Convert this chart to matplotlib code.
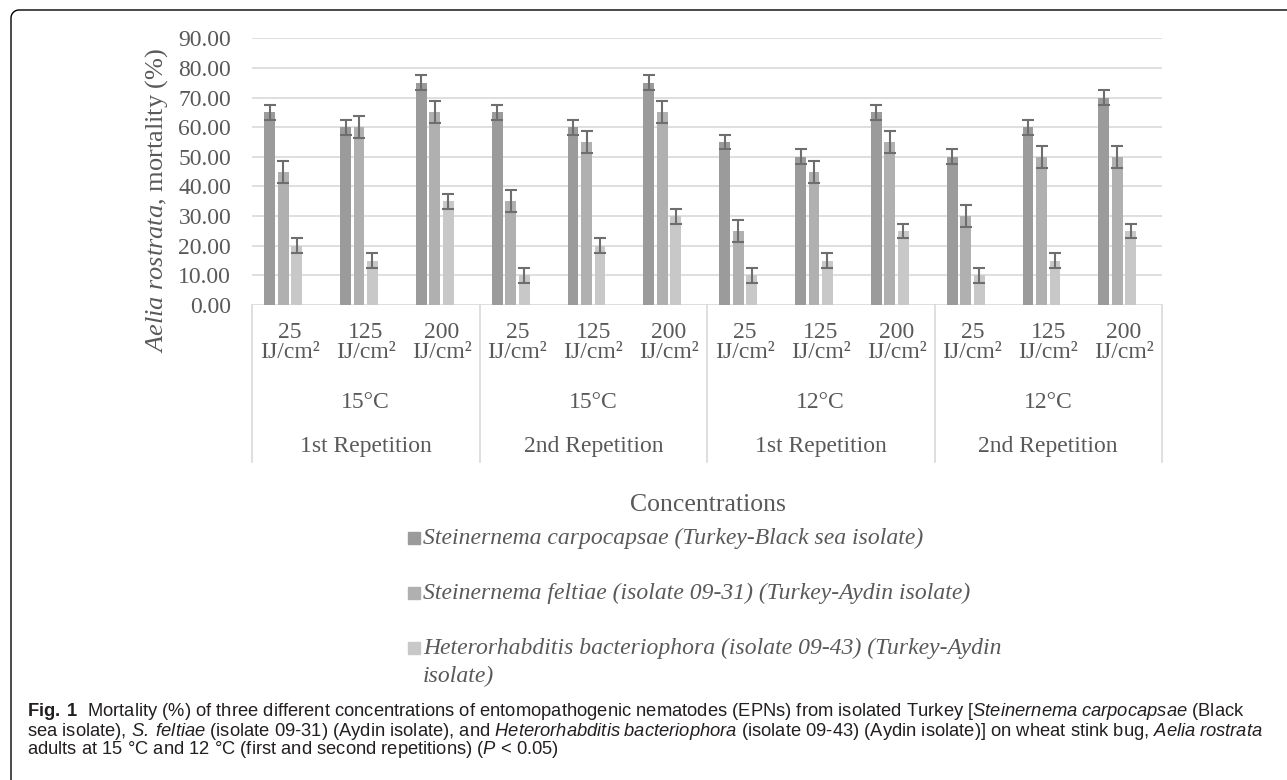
import matplotlib
matplotlib.use('Agg')
import matplotlib.pyplot as plt
import numpy as np
from matplotlib.transforms import blended_transform_factory
from matplotlib.lines import Line2D
from matplotlib.patches import Rectangle

plt.rcParams['font.family'] = ['Liberation Serif', 'DejaVu Serif']
plt.rcParams['mathtext.fontset'] = 'custom'
plt.rcParams['mathtext.rm'] = 'Liberation Serif'
plt.rcParams['mathtext.it'] = 'Liberation Serif:italic'
plt.rcParams['mathtext.sf'] = 'Liberation Sans:italic'
plt.rcParams['mathtext.bf'] = 'Liberation Sans:bold'

# ---------------- data ----------------
conc_top = ['25', '125', '200', '25', '125', '200', '25', '125', '200', '25', '125', '200']
conc_unit = ['IJ/cm²'] * 12
temp_labels = ['15°C', '15°C', '12°C', '12°C']
rep_labels = ['1st Repetition', '2nd Repetition', '1st Repetition', '2nd Repetition']

carpocapsae = [65, 60, 75, 65, 60, 75, 55, 50, 65, 50, 60, 70]
feltiae     = [45, 60, 65, 35, 55, 65, 25, 45, 55, 30, 50, 50]
bacterio    = [20, 15, 35, 10, 20, 30, 10, 15, 25, 10, 15, 25]
empty_ser   = [0, 0, 0, 0, 0, 0, 0, 0, 0, 0, 0, 0]

err_carpo   = [2.5, 2.5, 2.5, 2.5, 2.5, 2.5, 2.5, 2.5, 2.5, 2.5, 2.5, 2.5]
err_feltiae = [3.7, 3.7, 3.7, 3.7, 3.7, 3.7, 3.7, 3.7, 3.7, 3.7, 3.7, 3.7]
err_bact    = [2.5, 2.5, 2.5, 2.5, 2.5, 2.5, 2.5, 2.5, 2.5, 2.5, 2.5, 2.5]

legend_labels = [
    'Steinernema carpocapsae (Turkey-Black sea isolate)',
    'Steinernema feltiae (isolate 09-31) (Turkey-Aydin isolate)',
    'Heterorhabditis bacteriophora (isolate 09-43) (Turkey-Aydin',
]

# ---------------- style ----------------
W, H = 1287, 780
C1, C2, C3, C4 = '#9b9b9b', '#b0b0b0', '#c8c8c8', '#d9d9d9'
TXT = '#595959'
GRID = '#d9d9d9'
ERR = '#6e6e6e'
FS_TICK = 17

fig = plt.figure(figsize=(W / 100, H / 100), dpi=100)

# axes in pixel terms: x 252..1162, y(0)=305, y(90)=38
ax_l, ax_r, ax_b, ax_t = 252, 1162, 305, 38.3
ax = fig.add_axes([ax_l / W, 1 - ax_b / H, (ax_r - ax_l) / W, (ax_b - ax_t) / H])

def ay(py):
    # pixel row -> axes fraction
    return (ax_b - py) / (ax_b - ax_t)

x = np.arange(len(carpocapsae))
bw = 0.142
step = 0.178
err_kw = dict(ecolor=ERR, elinewidth=1.5, capsize=4, capthick=1.5)

ax.bar(x - 1.5 * step, carpocapsae, bw, color=C1, yerr=err_carpo, error_kw=err_kw, zorder=2)
ax.bar(x - 0.5 * step, feltiae, bw, color=C2, yerr=err_feltiae, error_kw=err_kw, zorder=2)
ax.bar(x + 0.5 * step, bacterio, bw, color=C3, yerr=err_bact, error_kw=err_kw, zorder=2)
ax.bar(x + 1.5 * step, empty_ser, bw, color=C4, edgecolor=C4, linewidth=1.0, zorder=2)

ax.set_xlim(-0.5, len(x) - 0.5)
ax.set_ylim(0, 90)
ax.set_yticks(np.arange(0, 91, 10))
ax.set_yticklabels([f'{v:.2f}' for v in np.arange(0, 91, 10)])
ax.set_xticks([])
ax.tick_params(axis='y', length=0, pad=15, labelsize=FS_TICK, labelcolor=TXT)
ax.grid(axis='y', color=GRID, linewidth=1.2, zorder=0)
ax.set_axisbelow(True)
for s in ax.spines.values():
    s.set_visible(False)

# ---------------- multi-level category axis ----------------
trans = blended_transform_factory(ax.transData, ax.transAxes)
for i in x:
    ax.text(i, ay(333), conc_top[i], transform=trans, ha='center', va='center',
            fontsize=FS_TICK, color=TXT, clip_on=False)
    ax.text(i, ay(353), conc_unit[i], transform=trans, ha='center', va='center',
            fontsize=FS_TICK, color=TXT, clip_on=False)
for k in range(4):
    cx = 3 * k + 1
    ax.text(cx, ay(403), temp_labels[k], transform=trans, ha='center', va='center',
            fontsize=FS_TICK, color=TXT, clip_on=False)
    ax.text(cx, ay(447), rep_labels[k], transform=trans, ha='center', va='center',
            fontsize=FS_TICK, color=TXT, clip_on=False)
for bx in np.arange(-0.5, len(x), 3):
    ax.plot([bx, bx], [0, ay(462)], transform=trans, color=GRID, linewidth=1.2,
            clip_on=False, zorder=1)

# axis titles
fig.text(157 / W, 1 - 200 / H, r'$\mathit{Aelia\ rostrata}$, mortality (%)', rotation=90,
         ha='center', va='center', fontsize=19, color=TXT)
fig.text(708 / W, 1 - 505 / H, 'Concentrations', ha='center', va='center',
         fontsize=18.5, color=TXT)

# ---------------- legend ----------------
leg_y = [538, 593, 648]
for yy, col, lab in zip(leg_y, [C1, C2, C3], legend_labels):
    fig.add_artist(Rectangle((408 / W, 1 - (yy + 6) / H), 12 / W, 12 / H,
                             transform=fig.transFigure, color=col))
    fig.text(423 / W, 1 - yy / H, lab, ha='left', va='center', fontsize=17,
             style='italic', color=TXT)
fig.text(423 / W, 1 - 676 / H, 'isolate)', ha='left', va='center', fontsize=17,
         style='italic', color=TXT)

# ---------------- caption ----------------
cap1 = (r'$\mathbf{Fig.\ 1}$  Mortality (%) of three different concentrations of entomopathogenic '
        r'nematodes (EPNs) from isolated Turkey [$\mathsf{Steinernema\ carpocapsae}$ (Black')
cap2 = (r'sea isolate), $\mathsf{S.\ feltiae}$ (isolate 09-31) (Aydin isolate), and '
        r'$\mathsf{Heterorhabditis\ bacteriophora}$ (isolate 09-43) (Aydin isolate)] on wheat '
        r'stink bug, $\mathsf{Aelia\ rostrata}$')
cap3 = r'adults at 15 °C and 12 °C (first and second repetitions) ($\mathsf{P}$ < 0.05)'
for yy, line in zip([712, 731, 750], [cap1, cap2, cap3]):
    fig.text(27 / W, 1 - yy / H, line, ha='left', va='center', fontsize=13.2,
             family='Liberation Sans', color='#231f20')

# ---------------- frame (top + left, rounded corner) ----------------
r = 8
ang = np.linspace(np.pi / 2, np.pi, 20)
fx = np.concatenate([[W], 11 + r + r * np.cos(ang), [11]])
fy = np.concatenate([[10], 10 + r - r * np.sin(ang), [H]])
fig.add_artist(Line2D(fx / W, 1 - fy / H, transform=fig.transFigure, color='black',
                      linewidth=1.0))

fig.savefig('out.png', dpi=100)
